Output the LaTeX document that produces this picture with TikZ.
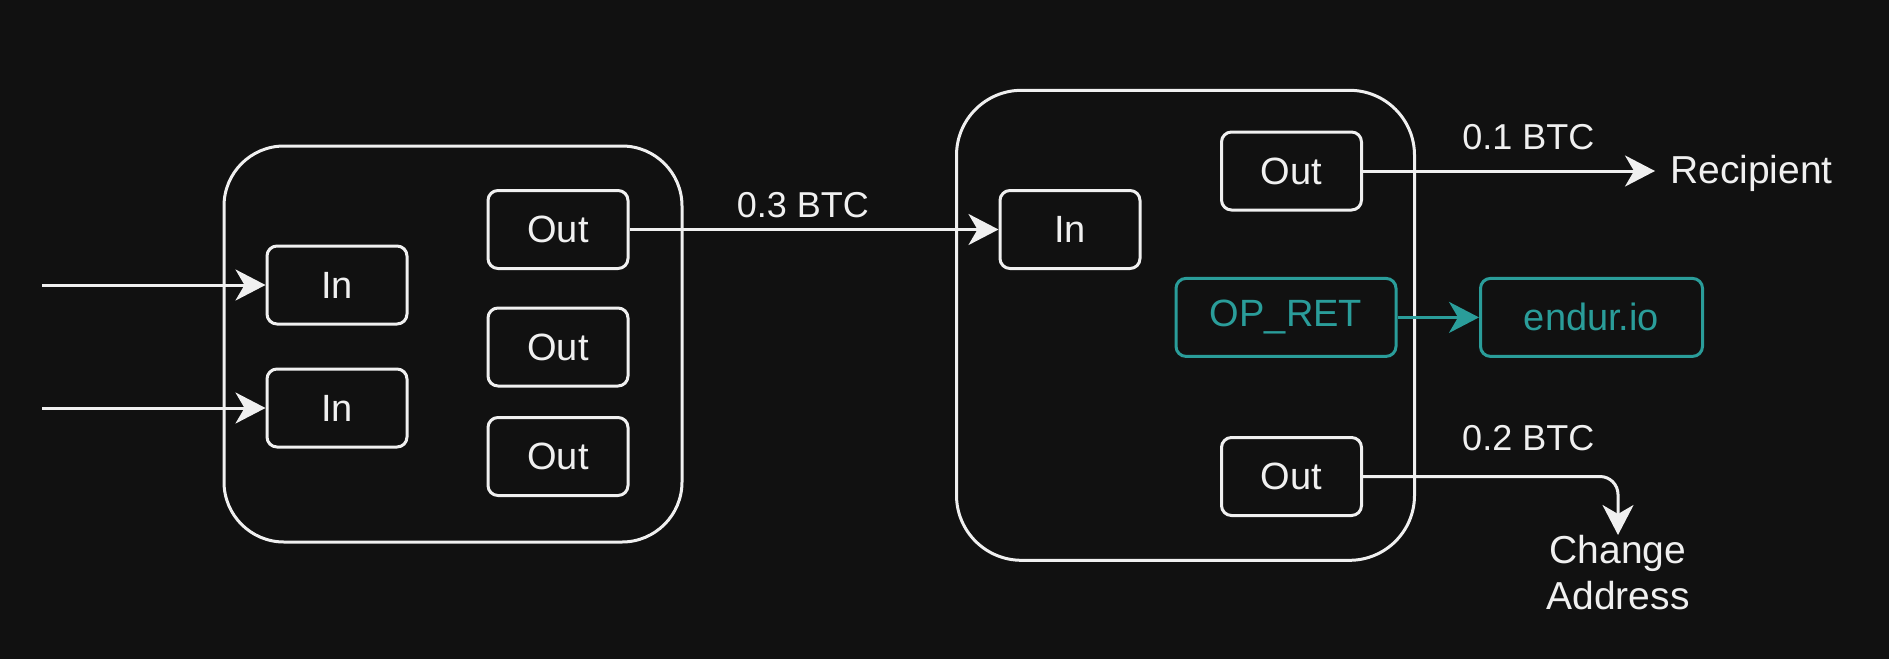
\documentclass[tikz,border=0pt]{standalone}
\usepackage{fontspec}
\setmainfont{Liberation Sans}
\usetikzlibrary{arrows.meta}

\definecolor{bg}{HTML}{111111}
\definecolor{fg}{HTML}{F0F0F0}
\definecolor{teal}{RGB}{42,157,154}

\tikzstyle{txbox} = [draw=fg, line width=3pt, rounded corners=60pt, minimum width=458pt]
\tikzstyle{utxo} = [draw=fg, fill=bg, text=fg, line width=3pt, rounded corners=10pt,
	minimum width=140pt, minimum height=78pt, inner sep=0pt, font=\fontsize{38}{46}\selectfont]
\tikzstyle{flow} = [draw=fg, line width=3pt, -{Stealth[length=30pt,width=31pt,inset=9pt]}]
\tikzstyle{amount} = [text=fg, inner sep=2pt, font=\fontsize{36}{43}\selectfont]
\tikzstyle{target} = [text=fg, inner sep=0pt, font=\fontsize{39}{46}\selectfont]

\begin{document}
\begin{tikzpicture}[x=1pt,y=-1pt]
\fill[bg] (0,0) rectangle (1889,659);
\useasboundingbox (0,0) rectangle (1889,659);

% first transaction
\node [txbox, minimum height=396pt] (tx1) at (453,344) {};
\node [utxo] (in1) at (337,285) {In};
\node [utxo] (in2) at (337,408) {In};
\node [utxo] (out1) at (558,229.5) {Out};
\node [utxo] (out2) at (558,347) {Out};
\node [utxo] (out3) at (558,456.5) {Out};
\coordinate (src1) at (42,285);
\coordinate (src2) at (42,408);

% second transaction
\node [txbox, minimum height=470pt, rounded corners=65pt] (tx2) at (1185.5,325.3) {};
\node [utxo] (inr) at (1070,229.5) {In};
\node [utxo] (outa) at (1291.5,171) {Out};
\node [utxo, draw=teal, text=teal, minimum width=220pt] (opret) at (1286,317.4) {OP\_RET};
\node [utxo] (outb) at (1291.5,476.5) {Out};

% destinations
\node [utxo, draw=teal, text=teal, minimum width=222pt] (endur) at (1591.5,317.4) {endur.io};
\node [target, anchor=west, inner xsep=15pt] (recipient) at (1655,173) {Recipient};
\node [target, anchor=north, align=center] (change) at (1618,535) {Change\\Address};

\draw [flow] (src1) -- (in1.west);
\draw [flow] (src2) -- (in2.west);
\draw [flow] (out1.east) -- node[amount, above=8.5pt, pos=0.47] {0.3 BTC} (inr.west);
\draw [flow] (outa.east) -- node[amount, above=17.5pt, pos=0.566] {0.1 BTC} (outa.east -| recipient.west);
\draw [flow, draw=teal] (opret.east) -- (endur.west);
\draw [flow, rounded corners=18pt] (outb.east) -| node[amount, above=21.8pt, pos=0.324] {0.2 BTC} (change.north);
\end{tikzpicture}
\end{document}
